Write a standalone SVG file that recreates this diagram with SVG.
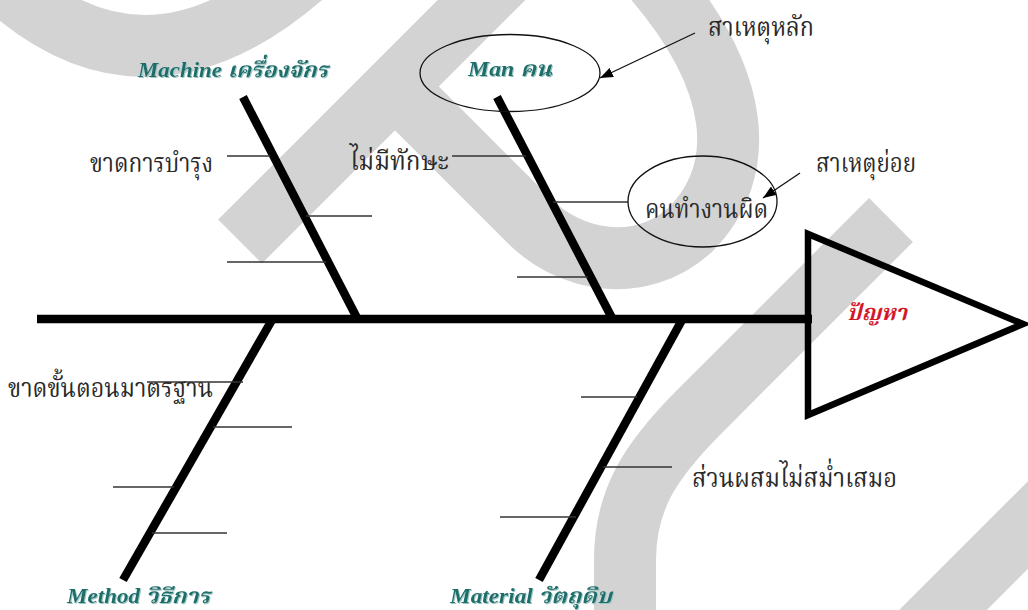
<svg xmlns="http://www.w3.org/2000/svg" width="1028" height="610" viewBox="0 0 1028 610">
<defs>
<style>
.band{fill:none;stroke:#d3d3d3;stroke-width:62;stroke-linecap:butt;stroke-linejoin:round}
.bone{stroke:#000;stroke-width:8.5;stroke-linecap:butt}
.sub{stroke:#333;stroke-width:1.4}
.ell{fill:none;stroke:#111;stroke-width:1.3}
.arrow{stroke:#111;stroke-width:1.3;fill:none}
.cat{font-family:'Liberation Serif','Noto Serif Thai',serif;font-weight:bold;font-style:italic;font-size:21px;fill:#1d6e6b}
.th{font-family:'Liberation Serif','Noto Serif Thai',serif;font-size:27px;fill:#2a2a2a}
.prob{font-family:'Liberation Serif','Noto Serif Thai',serif;font-weight:bold;font-style:italic;font-size:22px;fill:#d4182b}
</style>
<marker id="ah" viewBox="0 0 13 10" refX="13" refY="5" markerWidth="13" markerHeight="10" markerUnits="userSpaceOnUse" orient="auto">
<path d="M0,0 L13,5 L0,10 z" fill="#000"/>
</marker>
<filter id="glow" x="-5%" y="-20%" width="110%" height="140%">
<feDropShadow dx="1" dy="1" stdDeviation="0.6" flood-color="#9cc8c6"/>
</filter>
</defs>
<rect width="1028" height="610" fill="#fff"/>
<g id="watermark">
<path class="band" d="M-20,-40 Q140,132 320,-40"/>
<path class="band" d="M240,241.5 L515,-33.5"/>
<path class="band" d="M395,86.5 L530,221.5 C570,261.5 640,275 690,230 C750,170 740,80 655,-20"/>
<path class="band" d="M891,220 L700,411 C650,461 625,500 625,560 L625,650"/>
<path class="band" d="M880,673 L1080,473"/>
</g>
<g id="connectors">
<line class="bone" x1="37" y1="319" x2="812" y2="319" stroke-width="7.5"/>
<line class="bone" x1="243" y1="97" x2="357" y2="318"/>
<line class="bone" x1="497" y1="97" x2="612" y2="318"/>
<line class="bone" x1="272" y1="320" x2="123" y2="580"/>
<line class="bone" x1="682" y1="320" x2="539" y2="580"/>
<line class="sub" x1="227" y1="156" x2="270" y2="156"/>
<line class="sub" x1="306" y1="216" x2="372" y2="216"/>
<line class="sub" x1="227" y1="262" x2="326" y2="262"/>
<line class="sub" x1="452" y1="156" x2="526" y2="156"/>
<line class="sub" x1="553" y1="202" x2="628" y2="202"/>
<line class="sub" x1="517" y1="277" x2="588" y2="277"/>
<line class="sub" x1="147" y1="382" x2="243" y2="382"/>
<line class="sub" x1="213" y1="427" x2="292" y2="427"/>
<line class="sub" x1="113" y1="487" x2="174" y2="487"/>
<line class="sub" x1="152" y1="533" x2="227" y2="533"/>
<line class="sub" x1="581" y1="397" x2="637" y2="397"/>
<line class="sub" x1="603" y1="467" x2="672" y2="467"/>
<line class="sub" x1="500" y1="517" x2="576" y2="517"/>
<line class="arrow" x1="695" y1="33" x2="600" y2="78" marker-end="url(#ah)"/>
<line class="arrow" x1="800" y1="173" x2="763" y2="198" marker-end="url(#ah)"/>
</g>
<g id="node-problem">
<polygon points="808,234 808,415 1023,324" fill="none" stroke="#000" stroke-width="6.5" stroke-linejoin="miter"/>
<text class="prob" x="847" y="320" textLength="60" lengthAdjust="spacingAndGlyphs">ปัญหา</text>
</g>
<g id="node-machine">
<text class="cat" filter="url(#glow)" x="138" y="77" textLength="190" lengthAdjust="spacingAndGlyphs">Machine เครื่องจักร</text>
</g>
<g id="node-man">
<ellipse class="ell" cx="510" cy="73" rx="90" ry="38.5"/>
<text class="cat" filter="url(#glow)" x="468" y="76" textLength="84" lengthAdjust="spacingAndGlyphs">Man คน</text>
</g>
<g id="node-method">
<text class="cat" filter="url(#glow)" x="67" y="603" textLength="143" lengthAdjust="spacingAndGlyphs">Method วิธีการ</text>
</g>
<g id="node-material">
<text class="cat" filter="url(#glow)" x="450" y="603" textLength="162" lengthAdjust="spacingAndGlyphs">Material วัตถุดิบ</text>
</g>
<g id="cause-maintenance">
<text class="th" x="90" y="172" textLength="123" lengthAdjust="spacingAndGlyphs">ขาดการบำรุง</text>
</g>
<g id="cause-skill">
<text class="th" x="350" y="170" textLength="99" lengthAdjust="spacingAndGlyphs">ไม่มีทักษะ</text>
</g>
<g id="cause-wrongwork">
<ellipse class="ell" cx="702.5" cy="201.5" rx="74.5" ry="45.5"/>
<text class="th" x="645" y="218" textLength="123" lengthAdjust="spacingAndGlyphs">คนทำงานผิด</text>
</g>
<g id="cause-standard">
<text class="th" x="8" y="397" textLength="205" lengthAdjust="spacingAndGlyphs">ขาดขั้นตอนมาตรฐาน</text>
</g>
<g id="cause-mixture">
<text class="th" x="692" y="487" textLength="205" lengthAdjust="spacingAndGlyphs">ส่วนผสมไม่สม่ำเสมอ</text>
</g>
<g id="legend-main">
<text class="th" x="708" y="36" textLength="106" lengthAdjust="spacingAndGlyphs">สาเหตุหลัก</text>
</g>
<g id="legend-sub">
<text class="th" x="816" y="172" textLength="100" lengthAdjust="spacingAndGlyphs">สาเหตุย่อย</text>
</g>
</svg>
